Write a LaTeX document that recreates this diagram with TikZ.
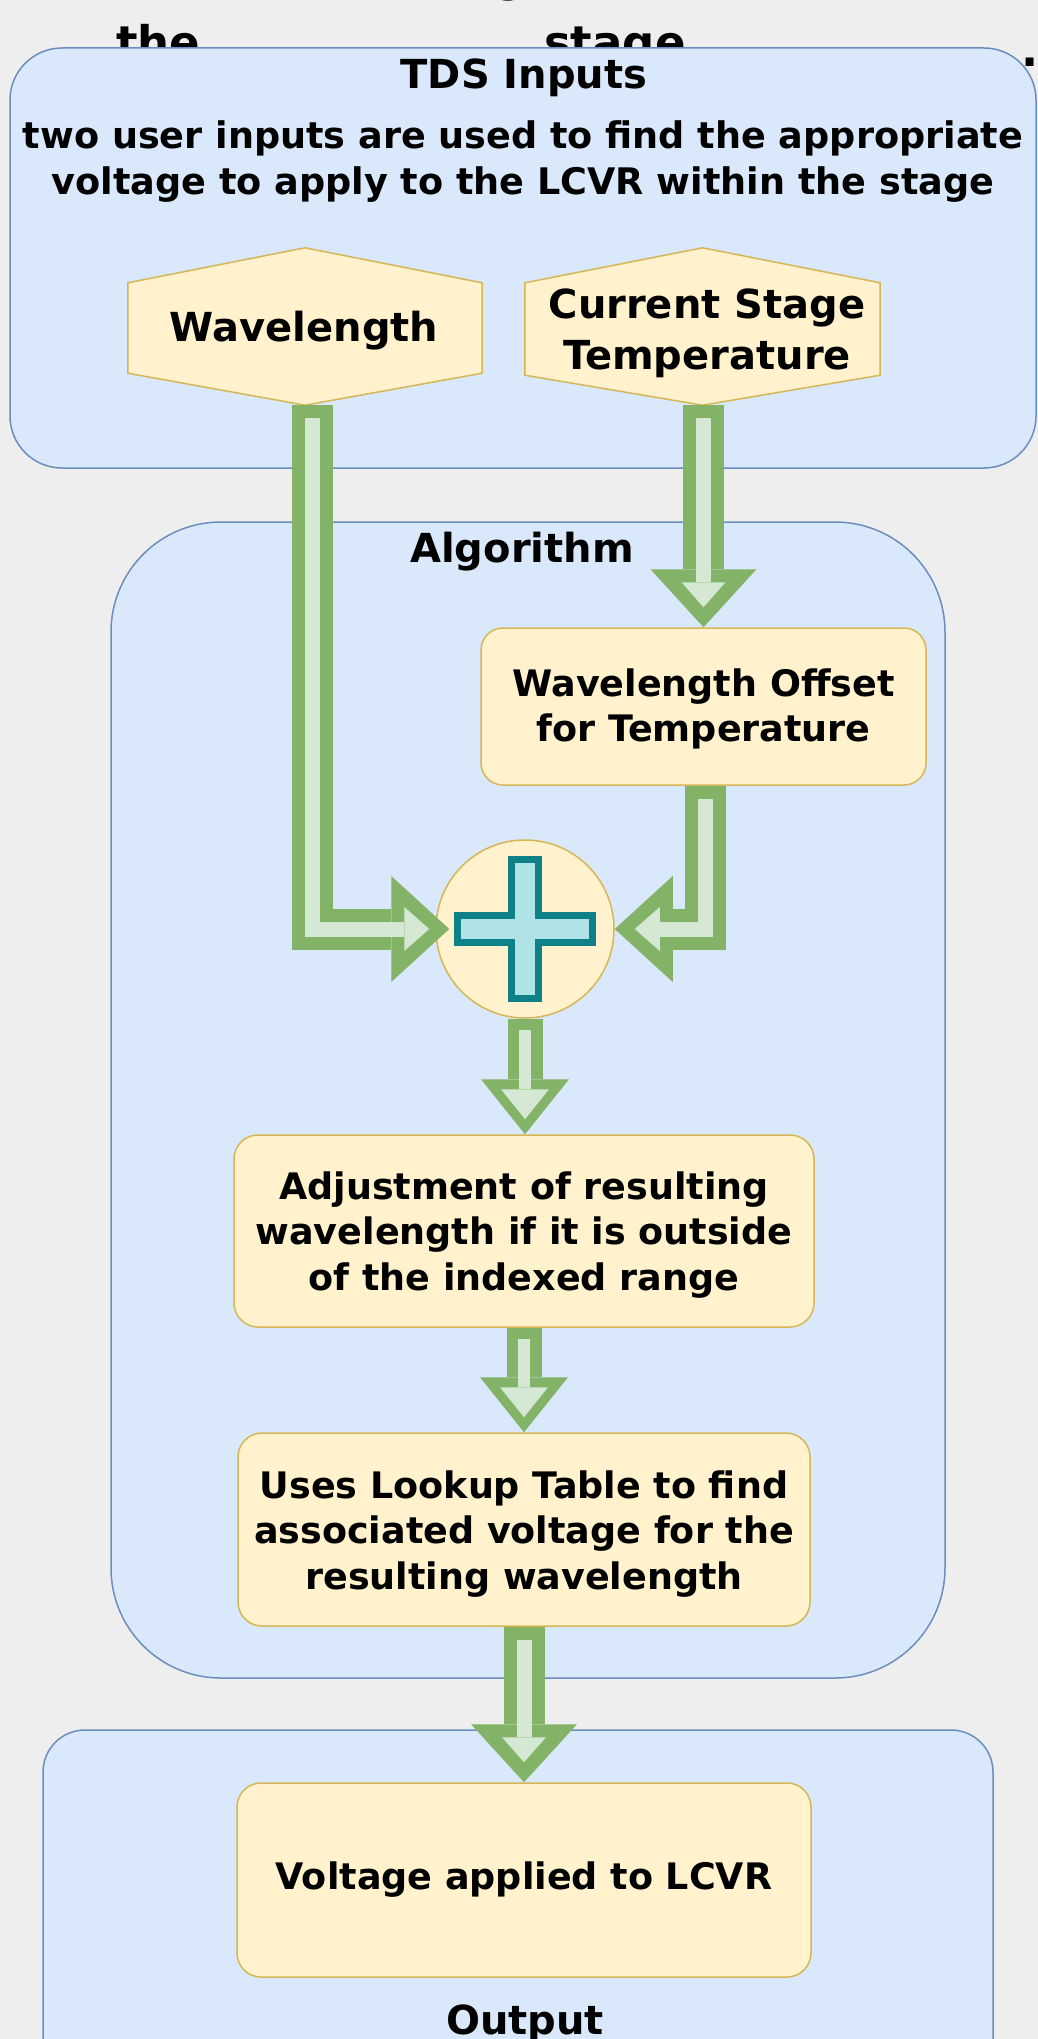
\documentclass[tikz,border=0pt]{standalone}
\usepackage{fontspec}
\setmainfont{DejaVu Sans}
\usetikzlibrary{arrows.meta,calc}
\definecolor{bgc}{HTML}{EEEEEE}
\definecolor{contF}{HTML}{DAE8FC}
\definecolor{contD}{HTML}{6C8EBF}
\definecolor{yelF}{HTML}{FFF2CC}
\definecolor{yelD}{HTML}{D6B656}
\definecolor{grD}{HTML}{82B366}
\definecolor{grF}{HTML}{D5E8D4}
\definecolor{tlF}{HTML}{B0E3E6}
\definecolor{tlD}{HTML}{0E8088}
\tikzset{
  cont/.style={draw=contD, fill=contF, line width=1.5pt, inner sep=0pt},
  ynode/.style={draw=yelD, fill=yelF, line width=1.5pt, rounded corners=24pt, inner sep=0pt},
  ytxt/.style={inner sep=0pt, align=center, font=\bfseries\fontsize{36.5}{45.5}\selectfont},
  hexshape/.style={draw=yelD, fill=yelF, line width=1.5pt, line join=miter},
  hexbox/.style={inner sep=0pt, minimum width=354pt, minimum height=157pt},
  ttl/.style={inner sep=0pt, font=\bfseries\fontsize{40}{50}\selectfont},
  hextxt/.style={inner sep=0pt, align=center, font=\bfseries\fontsize{40}{51}\selectfont},
  desctxt/.style={inner sep=0pt, align=center, font=\bfseries\fontsize{36.6}{46}\selectfont},
  hidtxt/.style={inner sep=0pt, font=\bfseries\fontsize{45}{52}\selectfont},
  bigout/.style={draw=grD, line width=41pt, line join=miter,
    -{Triangle[length=58pt,width=106pt,line width=0pt]}},
  bigin/.style={draw=grF, line width=15pt, line join=miter, shorten <=13pt, shorten >=20pt,
    -{Triangle[length=25pt,width=44pt,line width=0pt]}},
  smallout/.style={draw=grD, line width=35pt, line join=miter,
    -{Triangle[length=55pt,width=88pt,line width=0pt]}},
  smallin/.style={draw=grF, line width=12pt, line join=miter, shorten <=11pt, shorten >=15pt,
    -{Triangle[length=30pt,width=48pt,line width=0pt]}},
  plusst/.style={draw=tlD, fill=tlF, line width=7pt, line join=miter}
}
\newcommand\bigflex[1]{\draw[bigout] #1; \draw[bigin] #1;}
\newcommand\smallflex[1]{\draw[smallout] #1; \draw[smallin] #1;}
\begin{document}
\begin{tikzpicture}[x=1pt,y=-1pt]
\fill[bgc] (0,0) rectangle (1038,2039);
\useasboundingbox (0,0) rectangle (1038,2039);

% partially hidden text behind the top container
\node[hidtxt, anchor=base] (hg) at (511,-8) {g};
\node[hidtxt, anchor=base west] (hthe) at (116,59) {the};
\node[hidtxt, anchor=base west] (hstage) at (544,59) {stage};
\node[hidtxt, anchor=base west] (hdot) at (1021,67) {.};

% containers
\node[cont, rounded corners=52pt, minimum width=1026pt, minimum height=420pt] (tds) at (523,258) {};
\node[cont, rounded corners=110pt, minimum width=834pt, minimum height=1156pt] (alg) at (528,1100) {};
\node[cont, rounded corners=42pt, minimum width=950pt, minimum height=400pt] (outc) at (518,1930) {};

\node[ttl, anchor=base] (tdsT) at (524,89) {TDS Inputs};
\node[desctxt] (desc) at (523,162) {two user inputs are used to find the appropriate\\voltage to apply to the LCVR within the stage};
\node[ttl, anchor=base] (algT) at (522,562) {Algorithm};
\node[ttl, anchor=base] (outT) at (525,2034) {Output};

% hexagons
\node[hexbox] (hexW) at (305,326.5) {};
\draw[hexshape] (hexW.north) -- ($(hexW.north west)+(0,35)$) -- ($(hexW.south west)+(0,-32)$)
  -- (hexW.south) -- ($(hexW.south east)+(0,-32)$) -- ($(hexW.north east)+(0,35)$) -- cycle;
\node[hextxt] (hexWt) at (304,331) {Wavelength};

\node[hexbox, minimum width=355pt] (hexT) at (702.5,326.5) {};
\draw[hexshape] (hexT.north) -- ($(hexT.north west)+(0,35)$) -- ($(hexT.south west)+(0,-30)$)
  -- (hexT.south) -- ($(hexT.south east)+(0,-30)$) -- ($(hexT.north east)+(0,35)$) -- cycle;
\node[hextxt] (hexTt) at (707,333) {Current Stage\\Temperature};

% process boxes
\node[ynode, rounded corners=22pt, minimum width=445pt, minimum height=157pt] (offs) at (703.5,706.5) {};
\node[ytxt] (offsT) at (703.5,709) {Wavelength Offset\\for Temperature};
\node[ynode, minimum width=580pt, minimum height=192pt] (adj) at (524,1231) {};
\node[ytxt] (adjT) at (524,1235) {Adjustment of resulting\\wavelength if it is outside\\of the indexed range};
\node[ynode, minimum width=572pt, minimum height=193pt] (look) at (524,1529.5) {};
\node[ytxt] (lookT) at (524,1534) {Uses Lookup Table to find\\associated voltage for the\\resulting wavelength};
\node[ynode, minimum width=574pt, minimum height=194pt] (volt) at (524,1880) {};
\node[ytxt] (voltT) at (524,1880) {Voltage applied to LCVR};

% summing junction
\node[circle, draw=yelD, fill=yelF, line width=1.5pt, minimum size=178pt, inner sep=0pt] (plus) at (525,929) {};
\begin{scope}[shift={(plus.center)}]
\draw[plusst] (-13.5,-69.5) -- (13.5,-69.5) -- (13.5,-13.5) -- (67.5,-13.5) -- (67.5,13.5)
  -- (13.5,13.5) -- (13.5,69.5) -- (-13.5,69.5) -- (-13.5,13.5) -- (-67.5,13.5)
  -- (-67.5,-13.5) -- (-13.5,-13.5) -- cycle;
\end{scope}

% connectors
\bigflex{([xshift=7pt]hexW.south) |- ($(plus.west)+(14,0)$)}
\bigflex{(hexT.south -| offs.north) -- (offs.north)}
\bigflex{([xshift=1.5pt]offs.south) |- (plus.east)}
\smallflex{(plus.south) -- (plus.south |- adj.north)}
\smallflex{(adj.south) -- (look.north)}
\bigflex{(look.south) -- (volt.north)}
\end{tikzpicture}
\end{document}
